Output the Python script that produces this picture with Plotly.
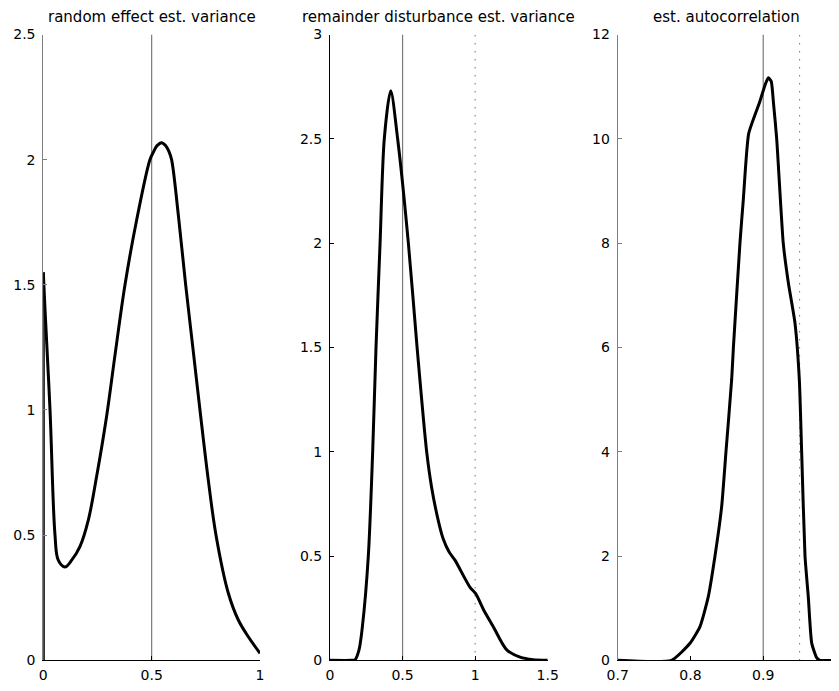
import plotly.graph_objects as go

# ---------------- data ----------------
titles = ["random effect est. variance", "remainder disturbance est. variance", "est. autocorrelation"]

# panel 1: random effect est. variance
re_x = [0.0, 0.008, 0.031, 0.054, 0.069, 0.10, 0.131, 0.169, 0.208, 0.246, 0.292, 0.331, 0.377,
        0.431, 0.492, 0.508, 0.525, 0.546, 0.565, 0.58, 0.592, 0.623, 0.657, 0.69, 0.723,
        0.76, 0.797, 0.854, 0.9, 0.946, 1.0]
re_y = [1.55, 1.4, 1.0, 0.5, 0.40, 0.373, 0.40, 0.454, 0.561, 0.734, 0.974, 1.22, 1.5,
        1.76, 2.0, 2.03, 2.056, 2.068, 2.056, 2.032, 2.0, 1.78, 1.5, 1.25, 1.0,
        0.73, 0.5, 0.268, 0.161, 0.094, 0.028]

# panel 2: remainder disturbance est. variance
rd_x = [0.0, 0.15, 0.172, 0.2, 0.223, 0.264, 0.294, 0.317, 0.345, 0.374, 0.418, 0.466, 0.54,
        0.60, 0.666, 0.70, 0.746, 0.781, 0.82, 0.861, 0.965, 1.004, 1.06, 1.126, 1.218, 1.31,
        1.4, 1.5]
rd_y = [0.0, 0.0, 0.002, 0.05, 0.16, 0.5, 1.0, 1.5, 2.0, 2.5, 2.73, 2.5, 2.0,
        1.5, 1.0, 0.83, 0.67, 0.58, 0.52, 0.48, 0.35, 0.32, 0.24, 0.16, 0.05, 0.015,
        0.003, 0.0]

# panel 3: est. autocorrelation
ac_x = [0.70, 0.774, 0.7993, 0.8131, 0.8245, 0.8337, 0.8429, 0.8488, 0.8566, 0.859, 0.868,
        0.8726, 0.88, 0.895, 0.903, 0.907, 0.911, 0.914, 0.9185, 0.9275, 0.9345, 0.9436,
        0.9496, 0.9528, 0.9574, 0.9619, 0.9666, 0.9734, 0.978, 1.0]
ac_y = [0.0, 0.0, 0.326, 0.645, 1.22, 2.0, 2.95, 4.0, 5.38, 6.0, 8.0,
        8.83, 10.1, 10.7, 11.05, 11.17, 11.1, 10.7, 10.0, 8.0, 7.24, 6.47,
        5.38, 4.0, 2.0, 1.22, 0.33, 0.05, 0.0, 0.0]

true_vals = [0.5, 0.5, 0.9]          # solid gray lines
ref_vals = [None, 1.0, 0.95]         # dotted lines

x_ranges = [[0, 1], [0, 1.5], [0.7, 1.0]]
y_ranges = [[0, 2.5], [0, 3], [0, 12]]
x_ticks = [[0, 0.5, 1], [0, 0.5, 1, 1.5], [0.7, 0.8, 0.9, 1.0]]
x_ticklabels = [["0", "0.5", "1"], ["0", "0.5", "1", "1.5"], ["0.7", "0.8", "0.9", "1"]]
y_ticks = [[0, 0.5, 1, 1.5, 2, 2.5], [0, 0.5, 1, 1.5, 2, 2.5, 3], [0, 2, 4, 6, 8, 10, 12]]
y_ticklabels = [["0", "0.5", "1", "1.5", "2", "2.5"], ["0", "0.5", "1", "1.5", "2", "2.5", "3"],
                ["0", "2", "4", "6", "8", "10", "12"]]

# ---------------- figure ----------------
W, H = 839, 691
OFF = 8  # page body margin offset
x_dom_px = [(43.3 - OFF, 260.0 - OFF), (330.0 - OFF, 547.7 - OFF), (617.7 - OFF, 836.0 - OFF)]
y_dom_px = (34.5 - OFF, 660.3 - OFF)
FONT = "DejaVu Sans"
ylinecol = ["#808080", "#000000", "#808080"]
smooth = [1.0, 0.8, 0.5]

fig = go.Figure()
curves = [(re_x, re_y), (rd_x, rd_y), (ac_x, ac_y)]

for i in range(3):
    xa = "x" if i == 0 else f"x{i+1}"
    ya = "y" if i == 0 else f"y{i+1}"
    ytop = y_ranges[i][1]
    # true value line
    fig.add_trace(go.Scatter(x=[true_vals[i], true_vals[i]], y=[0, ytop], mode="lines",
                             line=dict(color="#7a7a7a", width=1.2), xaxis=xa, yaxis=ya,
                             showlegend=False, hoverinfo="skip"))
    if ref_vals[i] is not None:
        fig.add_trace(go.Scatter(x=[ref_vals[i], ref_vals[i]], y=[0, ytop], mode="lines",
                                 line=dict(color="#333333", width=1, dash="1px,7px"),
                                 xaxis=xa, yaxis=ya, showlegend=False, hoverinfo="skip"))
    cx, cy = curves[i]
    if i == 0:
        # vertical edge of the density at the lower bound
        fig.add_trace(go.Scatter(x=[cx[0], cx[0]], y=[0, cy[0]], mode="lines",
                                 line=dict(color="black", width=3), xaxis=xa, yaxis=ya,
                                 showlegend=False, hoverinfo="skip"))
    fig.add_trace(go.Scatter(x=cx, y=cy, mode="lines",
                             line=dict(color="black", width=3, shape="spline",
                                       smoothing=smooth[i]),
                             xaxis=xa, yaxis=ya, showlegend=False, hoverinfo="skip"))

    x0, x1 = x_dom_px[i]
    xdom = [x0 / W, x1 / W]
    ydom = [1 - y_dom_px[1] / H, 1 - y_dom_px[0] / H]
    xkey = "xaxis" if i == 0 else f"xaxis{i+1}"
    ykey = "yaxis" if i == 0 else f"yaxis{i+1}"
    fig.update_layout(**{
        xkey: dict(domain=xdom, range=x_ranges[i], tickvals=x_ticks[i], ticktext=x_ticklabels[i],
                   showline=True, linecolor="black", linewidth=1, ticks="inside", ticklen=4,
                   tickcolor="black", showgrid=False, zeroline=False, anchor=ya,
                   automargin=False, ticklabelstandoff=2, ticklabeloverflow="allow",
                   tickfont=dict(family=FONT, size=14, color="black"), fixedrange=True),
        ykey: dict(domain=ydom, range=y_ranges[i], tickvals=y_ticks[i], ticktext=y_ticklabels[i],
                   showline=True, linecolor=ylinecol[i], linewidth=1, ticks="inside", ticklen=4,
                   tickcolor=ylinecol[i], showgrid=False, zeroline=False, anchor=xa,
                   automargin=False, ticklabeloverflow="allow",
                   tickfont=dict(family=FONT, size=14, color="black"), fixedrange=True,
                   ticklabelstandoff=4),
    })
    fig.add_annotation(text=titles[i], xref="paper", yref="paper",
                       x=(x0 + x1) / 2 / W, y=1 - (17 - OFF) / H, xanchor="center", yanchor="middle",
                       showarrow=False, font=dict(family=FONT, size=15, color="black"))

fig.update_layout(width=W, height=H, margin=dict(l=0, r=0, t=0, b=0, autoexpand=False),
                  paper_bgcolor="white", plot_bgcolor="white", showlegend=False)

fig.write_html("out.html",
               post_script="document.documentElement.style.overflow='hidden';"
                           "document.body.style.overflow='hidden';")
